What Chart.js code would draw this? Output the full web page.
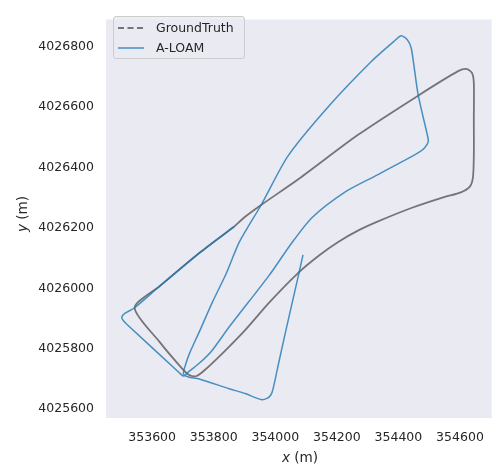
<!DOCTYPE html>
<html>
<head>
<meta charset="utf-8">
<script src="https://cdn.jsdelivr.net/npm/chart.js@4.4.0/dist/chart.umd.min.js"></script>
<style>
  body { margin: 0; background: #ffffff; }
  #wrap { position: relative; width: 496px; height: 464px; font-family: "DejaVu Sans", sans-serif; color: #262626; }
  #legend { position: absolute; left: 113px; top: 16px; width: 132px; height: 43px; box-sizing: border-box;
            background: rgba(234, 234, 242, 0.8); border: 1px solid #cccccc; border-radius: 3px; }
  .item { position: absolute; left: 0; height: 16px; font-size: 12.5px; line-height: 16px; white-space: nowrap; }
  .item svg { position: absolute; left: 4px; top: 0; }
  .item span { position: absolute; left: 42px; top: 0; }
  .axtitle { position: absolute; font-size: 13.6px; line-height: 16px; text-align: center; white-space: nowrap; }
</style>
</head>
<body>
<div id="wrap">
  <canvas id="trajChart" width="496" height="464"></canvas>
  <div id="legend"></div>
  <div class="axtitle" style="left:250px; top:449px; width:100px;"><i>x</i> (m)</div>
  <div class="axtitle" style="left:-28px; top:206px; width:100px; transform:rotate(-90deg);"><i>y</i> (m)</div>
</div>
<script>
// ejes
const xTicks = [353600, 353800, 354000, 354200, 354400, 354600];
const yTicks = [4025600, 4025800, 4026000, 4026200, 4026400, 4026600, 4026800];

// GroundTruth
const gtX = [353867, 353753, 353624, 353543, 353624, 353699, 353721, 353744, 353770, 353834,
  353902, 353980, 354073, 354141, 354203, 354270, 354332, 354442, 354548, 354603,
  354632, 354642, 354645, 354645, 354645, 354639, 354623, 354594, 354464, 354270,
  354077, 353954, 353902, 353867];
const gtY = [4026205, 4026117, 4026007, 4025936, 4025823, 4025733, 4025713, 4025710, 4025729, 4025791,
  4025862, 4025953, 4026050, 4026108, 4026153, 4026192, 4026221, 4026266, 4026302, 4026318,
  4026337, 4026367, 4026438, 4026567, 4026680, 4026713, 4026726, 4026719, 4026638, 4026509,
  4026363, 4026276, 4026237, 4026205];

// A-LOAM
const aloamX = [353867, 353753, 353624, 353543, 353511, 353501, 353508, 353521, 353689, 353702,
  353721, 353753, 353792, 353850, 353980, 354051, 354119, 354225, 354332, 354461,
  354484, 354497, 354493, 354464, 354442, 354429, 354409, 354387, 354312, 354170,
  354041, 353954, 353883, 353841, 353795, 353753, 353721, 353705, 353702, 353718,
  353753, 353850, 353902, 353954, 353973, 353986, 353993, 354012, 354044, 354073, 354090];
const aloamY = [4026205, 4026117, 4026007, 4025936, 4025917, 4025904, 4025891, 4025878, 4025720, 4025710,
  4025726, 4025752, 4025791, 4025872, 4026043, 4026147, 4026234, 4026318, 4026376, 4026447,
  4026464, 4026486, 4026512, 4026641, 4026794, 4026823, 4026836, 4026819, 4026751, 4026599,
  4026438, 4026276, 4026153, 4026050, 4025953, 4025856, 4025784, 4025736, 4025716, 4025707,
  4025700, 4025668, 4025652, 4025632, 4025636, 4025648, 4025668, 4025758, 4025904, 4026033, 4026111];

const gtColor = "rgba(0, 0, 0, 0.5)";
const aloamColor = "rgba(31, 119, 180, 0.8)";
const textColor = "#262626";
const tickFont = { family: "DejaVu Sans", size: 12.5 };

function toPoints(xs, ys) {
  return xs.map((x, i) => ({ x: x, y: ys[i] }));
}

// fondo gris del area de dibujo
const plotBg = {
  id: "plotBg",
  beforeDraw(chart) {
    const { ctx, chartArea: a } = chart;
    ctx.save();
    ctx.fillStyle = "#EAEAF2";
    ctx.fillRect(a.left, a.top, a.right - a.left, a.bottom - a.top);
    ctx.restore();
  },
};

const chart = new Chart(document.getElementById("trajChart"), {
  type: "scatter",
  data: {
    datasets: [
      {
        label: "GroundTruth",
        data: toPoints(gtX, gtY),
        showLine: true,
        borderColor: gtColor,
        borderWidth: 1.8,
        pointRadius: 0,
        tension: 0.25,
        order: 1,
      },
      {
        label: "A-LOAM",
        data: toPoints(aloamX, aloamY),
        showLine: true,
        borderColor: aloamColor,
        borderWidth: 1.5,
        pointRadius: 0,
        tension: 0.25,
        order: 0,
      },
    ],
  },
  options: {
    responsive: false,
    animation: false,
    layout: { padding: { top: 10, right: 2, left: 0, bottom: 0 } },
    scales: {
      x: {
        type: "linear",
        min: 353450,
        max: 354703,
        afterBuildTicks: (s) => { s.ticks = xTicks.map((v) => ({ value: v })); },
        afterFit: (s) => { s.height = 46; },
        grid: { display: false, drawTicks: false },
        border: { display: false },
        ticks: { padding: 12, color: textColor, font: tickFont, maxRotation: 0, autoSkip: false,
                 callback: (v) => String(v) },
      },
      y: {
        type: "linear",
        min: 4025571,
        max: 4026890,
        afterBuildTicks: (s) => { s.ticks = yTicks.map((v) => ({ value: v })); },
        afterFit: (s) => { s.width = 106; },
        grid: { display: false, drawTicks: false },
        border: { display: false },
        ticks: { padding: 12, color: textColor, font: tickFont, autoSkip: false,
                 callback: (v) => String(v) },
      },
    },
    plugins: {
      legend: { display: false },
      tooltip: { enabled: false },
    },
  },
  plugins: [plotBg],
});

// leyenda en HTML (arriba a la izquierda, dentro del area)
const legendDiv = document.getElementById("legend");
const legendItems = [
  { text: "GroundTruth", color: gtColor, dash: "6 3.5", width: 1.8 },
  { text: "A-LOAM", color: aloamColor, dash: "", width: 1.5 },
];
legendItems.forEach((item, i) => {
  const row = document.createElement("div");
  row.className = "item";
  row.style.top = (3 + i * 20) + "px";
  row.innerHTML =
    `<svg width="26" height="16"><line x1="0" y1="8" x2="26" y2="8" stroke="${item.color}" ` +
    `stroke-width="${item.width}" stroke-dasharray="${item.dash}"/></svg><span>${item.text}</span>`;
  legendDiv.appendChild(row);
});
</script>
</body>
</html>
